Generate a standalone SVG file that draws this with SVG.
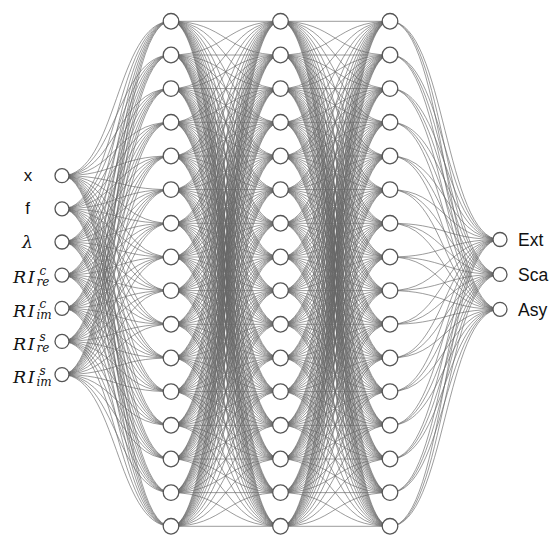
<svg xmlns="http://www.w3.org/2000/svg" width="554" height="544" viewBox="0 0 554 544">
<style>
.n circle{fill:#fff;stroke:#555;stroke-width:1.3}
#edges{fill:none;stroke:#666;stroke-width:.65}
.s{font-family:"Liberation Sans",Arial,sans-serif;font-size:17px;fill:#111}
.o{font-family:"Liberation Sans",Arial,sans-serif;font-size:17.5px;fill:#111}
.m{font-family:"DejaVu Serif","Liberation Serif",serif;font-style:italic;fill:#111}
</style>
<defs>
<g id="u1"><path d="M0,0C54.75,0 54.75,33.67 109.5,33.67"/></g>
<g id="u2"><use href="#u1"/><path d="M0,0C54.75,0 54.75,67.33 109.5,67.33"/></g>
<g id="u3"><use href="#u2"/><path d="M0,0C54.75,0 54.75,101 109.5,101"/></g>
<g id="u4"><use href="#u3"/><path d="M0,0C54.75,0 54.75,134.67 109.5,134.67"/></g>
<g id="u5"><use href="#u4"/><path d="M0,0C54.75,0 54.75,168.33 109.5,168.33"/></g>
<g id="u6"><use href="#u5"/><path d="M0,0C54.75,0 54.75,202 109.5,202"/></g>
<g id="u7"><use href="#u6"/><path d="M0,0C54.75,0 54.75,235.67 109.5,235.67"/></g>
<g id="u8"><use href="#u7"/><path d="M0,0C54.75,0 54.75,269.33 109.5,269.33"/></g>
<g id="u9"><use href="#u8"/><path d="M0,0C54.75,0 54.75,303 109.5,303"/></g>
<g id="u10"><use href="#u9"/><path d="M0,0C54.75,0 54.75,336.67 109.5,336.67"/></g>
<g id="u11"><use href="#u10"/><path d="M0,0C54.75,0 54.75,370.33 109.5,370.33"/></g>
<g id="u12"><use href="#u11"/><path d="M0,0C54.75,0 54.75,404 109.5,404"/></g>
<g id="u13"><use href="#u12"/><path d="M0,0C54.75,0 54.75,437.67 109.5,437.67"/></g>
<g id="u14"><use href="#u13"/><path d="M0,0C54.75,0 54.75,471.33 109.5,471.33"/></g>
<g id="u15"><use href="#u14"/><path d="M0,0C54.75,0 54.75,505 109.5,505"/></g>
<g id="hh">
<use href="#u15" transform="translate(0,21.3)"/>
<use href="#u14" transform="translate(0,54.97)"/><use href="#u1" transform="matrix(1,0,0,-1,0,54.97)"/>
<use href="#u13" transform="translate(0,88.63)"/><use href="#u2" transform="matrix(1,0,0,-1,0,88.63)"/>
<use href="#u12" transform="translate(0,122.3)"/><use href="#u3" transform="matrix(1,0,0,-1,0,122.3)"/>
<use href="#u11" transform="translate(0,155.97)"/><use href="#u4" transform="matrix(1,0,0,-1,0,155.97)"/>
<use href="#u10" transform="translate(0,189.63)"/><use href="#u5" transform="matrix(1,0,0,-1,0,189.63)"/>
<use href="#u9" transform="translate(0,223.3)"/><use href="#u6" transform="matrix(1,0,0,-1,0,223.3)"/>
<use href="#u8" transform="translate(0,256.97)"/><use href="#u7" transform="matrix(1,0,0,-1,0,256.97)"/>
<use href="#u7" transform="translate(0,290.63)"/><use href="#u8" transform="matrix(1,0,0,-1,0,290.63)"/>
<use href="#u6" transform="translate(0,324.3)"/><use href="#u9" transform="matrix(1,0,0,-1,0,324.3)"/>
<use href="#u5" transform="translate(0,357.97)"/><use href="#u10" transform="matrix(1,0,0,-1,0,357.97)"/>
<use href="#u4" transform="translate(0,391.63)"/><use href="#u11" transform="matrix(1,0,0,-1,0,391.63)"/>
<use href="#u3" transform="translate(0,425.3)"/><use href="#u12" transform="matrix(1,0,0,-1,0,425.3)"/>
<use href="#u2" transform="translate(0,458.97)"/><use href="#u13" transform="matrix(1,0,0,-1,0,458.97)"/>
<use href="#u1" transform="translate(0,492.63)"/><use href="#u14" transform="matrix(1,0,0,-1,0,492.63)"/>
<use href="#u15" transform="matrix(1,0,0,-1,0,526.3)"/>
</g>
</defs>
<g id="edges">
<path d="M62,175.7C116.5,175.7 116.5,21.3 171,21.3M62,175.7C116.5,175.7 116.5,55 171,55M62,175.7C116.5,175.7 116.5,88.6 171,88.6M62,175.7C116.5,175.7 116.5,122.3 171,122.3M62,175.7C116.5,175.7 116.5,156 171,156M62,175.7C116.5,175.7 116.5,189.6 171,189.6M62,175.7C116.5,175.7 116.5,223.3 171,223.3M62,175.7C116.5,175.7 116.5,257 171,257M62,175.7C116.5,175.7 116.5,290.6 171,290.6M62,175.7C116.5,175.7 116.5,324.3 171,324.3M62,175.7C116.5,175.7 116.5,358 171,358M62,175.7C116.5,175.7 116.5,391.6 171,391.6M62,175.7C116.5,175.7 116.5,425.3 171,425.3M62,175.7C116.5,175.7 116.5,459 171,459M62,175.7C116.5,175.7 116.5,492.6 171,492.6M62,175.7C116.5,175.7 116.5,526.3 171,526.3"/>
<path d="M62,208.8C116.5,208.8 116.5,21.3 171,21.3M62,208.8C116.5,208.8 116.5,55 171,55M62,208.8C116.5,208.8 116.5,88.6 171,88.6M62,208.8C116.5,208.8 116.5,122.3 171,122.3M62,208.8C116.5,208.8 116.5,156 171,156M62,208.8C116.5,208.8 116.5,189.6 171,189.6M62,208.8C116.5,208.8 116.5,223.3 171,223.3M62,208.8C116.5,208.8 116.5,257 171,257M62,208.8C116.5,208.8 116.5,290.6 171,290.6M62,208.8C116.5,208.8 116.5,324.3 171,324.3M62,208.8C116.5,208.8 116.5,358 171,358M62,208.8C116.5,208.8 116.5,391.6 171,391.6M62,208.8C116.5,208.8 116.5,425.3 171,425.3M62,208.8C116.5,208.8 116.5,459 171,459M62,208.8C116.5,208.8 116.5,492.6 171,492.6M62,208.8C116.5,208.8 116.5,526.3 171,526.3"/>
<path d="M62,242C116.5,242 116.5,21.3 171,21.3M62,242C116.5,242 116.5,55 171,55M62,242C116.5,242 116.5,88.6 171,88.6M62,242C116.5,242 116.5,122.3 171,122.3M62,242C116.5,242 116.5,156 171,156M62,242C116.5,242 116.5,189.6 171,189.6M62,242C116.5,242 116.5,223.3 171,223.3M62,242C116.5,242 116.5,257 171,257M62,242C116.5,242 116.5,290.6 171,290.6M62,242C116.5,242 116.5,324.3 171,324.3M62,242C116.5,242 116.5,358 171,358M62,242C116.5,242 116.5,391.6 171,391.6M62,242C116.5,242 116.5,425.3 171,425.3M62,242C116.5,242 116.5,459 171,459M62,242C116.5,242 116.5,492.6 171,492.6M62,242C116.5,242 116.5,526.3 171,526.3"/>
<path d="M62,275.1C116.5,275.1 116.5,21.3 171,21.3M62,275.1C116.5,275.1 116.5,55 171,55M62,275.1C116.5,275.1 116.5,88.6 171,88.6M62,275.1C116.5,275.1 116.5,122.3 171,122.3M62,275.1C116.5,275.1 116.5,156 171,156M62,275.1C116.5,275.1 116.5,189.6 171,189.6M62,275.1C116.5,275.1 116.5,223.3 171,223.3M62,275.1C116.5,275.1 116.5,257 171,257M62,275.1C116.5,275.1 116.5,290.6 171,290.6M62,275.1C116.5,275.1 116.5,324.3 171,324.3M62,275.1C116.5,275.1 116.5,358 171,358M62,275.1C116.5,275.1 116.5,391.6 171,391.6M62,275.1C116.5,275.1 116.5,425.3 171,425.3M62,275.1C116.5,275.1 116.5,459 171,459M62,275.1C116.5,275.1 116.5,492.6 171,492.6M62,275.1C116.5,275.1 116.5,526.3 171,526.3"/>
<path d="M62,308.3C116.5,308.3 116.5,21.3 171,21.3M62,308.3C116.5,308.3 116.5,55 171,55M62,308.3C116.5,308.3 116.5,88.6 171,88.6M62,308.3C116.5,308.3 116.5,122.3 171,122.3M62,308.3C116.5,308.3 116.5,156 171,156M62,308.3C116.5,308.3 116.5,189.6 171,189.6M62,308.3C116.5,308.3 116.5,223.3 171,223.3M62,308.3C116.5,308.3 116.5,257 171,257M62,308.3C116.5,308.3 116.5,290.6 171,290.6M62,308.3C116.5,308.3 116.5,324.3 171,324.3M62,308.3C116.5,308.3 116.5,358 171,358M62,308.3C116.5,308.3 116.5,391.6 171,391.6M62,308.3C116.5,308.3 116.5,425.3 171,425.3M62,308.3C116.5,308.3 116.5,459 171,459M62,308.3C116.5,308.3 116.5,492.6 171,492.6M62,308.3C116.5,308.3 116.5,526.3 171,526.3"/>
<path d="M62,341.4C116.5,341.4 116.5,21.3 171,21.3M62,341.4C116.5,341.4 116.5,55 171,55M62,341.4C116.5,341.4 116.5,88.6 171,88.6M62,341.4C116.5,341.4 116.5,122.3 171,122.3M62,341.4C116.5,341.4 116.5,156 171,156M62,341.4C116.5,341.4 116.5,189.6 171,189.6M62,341.4C116.5,341.4 116.5,223.3 171,223.3M62,341.4C116.5,341.4 116.5,257 171,257M62,341.4C116.5,341.4 116.5,290.6 171,290.6M62,341.4C116.5,341.4 116.5,324.3 171,324.3M62,341.4C116.5,341.4 116.5,358 171,358M62,341.4C116.5,341.4 116.5,391.6 171,391.6M62,341.4C116.5,341.4 116.5,425.3 171,425.3M62,341.4C116.5,341.4 116.5,459 171,459M62,341.4C116.5,341.4 116.5,492.6 171,492.6M62,341.4C116.5,341.4 116.5,526.3 171,526.3"/>
<path d="M62,374.6C116.5,374.6 116.5,21.3 171,21.3M62,374.6C116.5,374.6 116.5,55 171,55M62,374.6C116.5,374.6 116.5,88.6 171,88.6M62,374.6C116.5,374.6 116.5,122.3 171,122.3M62,374.6C116.5,374.6 116.5,156 171,156M62,374.6C116.5,374.6 116.5,189.6 171,189.6M62,374.6C116.5,374.6 116.5,223.3 171,223.3M62,374.6C116.5,374.6 116.5,257 171,257M62,374.6C116.5,374.6 116.5,290.6 171,290.6M62,374.6C116.5,374.6 116.5,324.3 171,324.3M62,374.6C116.5,374.6 116.5,358 171,358M62,374.6C116.5,374.6 116.5,391.6 171,391.6M62,374.6C116.5,374.6 116.5,425.3 171,425.3M62,374.6C116.5,374.6 116.5,459 171,459M62,374.6C116.5,374.6 116.5,492.6 171,492.6M62,374.6C116.5,374.6 116.5,526.3 171,526.3"/>
<path d="M171,21.3H390M171,55H390M171,88.6H390M171,122.3H390M171,156H390M171,189.6H390M171,223.3H390M171,257H390M171,290.6H390M171,324.3H390M171,358H390M171,391.6H390M171,425.3H390M171,459H390M171,492.6H390M171,526.3H390"/>
<use href="#hh" x="171"/>
<use href="#hh" x="280.5"/>
<path d="M500,239.5C445,239.5 445,21.3 390,21.3M500,239.5C445,239.5 445,55 390,55M500,239.5C445,239.5 445,88.6 390,88.6M500,239.5C445,239.5 445,122.3 390,122.3M500,239.5C445,239.5 445,156 390,156M500,239.5C445,239.5 445,189.6 390,189.6M500,239.5C445,239.5 445,223.3 390,223.3M500,239.5C445,239.5 445,257 390,257M500,239.5C445,239.5 445,290.6 390,290.6M500,239.5C445,239.5 445,324.3 390,324.3M500,239.5C445,239.5 445,358 390,358M500,239.5C445,239.5 445,391.6 390,391.6M500,239.5C445,239.5 445,425.3 390,425.3M500,239.5C445,239.5 445,459 390,459M500,239.5C445,239.5 445,492.6 390,492.6M500,239.5C445,239.5 445,526.3 390,526.3"/>
<path d="M500,274.4C445,274.4 445,21.3 390,21.3M500,274.4C445,274.4 445,55 390,55M500,274.4C445,274.4 445,88.6 390,88.6M500,274.4C445,274.4 445,122.3 390,122.3M500,274.4C445,274.4 445,156 390,156M500,274.4C445,274.4 445,189.6 390,189.6M500,274.4C445,274.4 445,223.3 390,223.3M500,274.4C445,274.4 445,257 390,257M500,274.4C445,274.4 445,290.6 390,290.6M500,274.4C445,274.4 445,324.3 390,324.3M500,274.4C445,274.4 445,358 390,358M500,274.4C445,274.4 445,391.6 390,391.6M500,274.4C445,274.4 445,425.3 390,425.3M500,274.4C445,274.4 445,459 390,459M500,274.4C445,274.4 445,492.6 390,492.6M500,274.4C445,274.4 445,526.3 390,526.3"/>
<path d="M500,309.3C445,309.3 445,21.3 390,21.3M500,309.3C445,309.3 445,55 390,55M500,309.3C445,309.3 445,88.6 390,88.6M500,309.3C445,309.3 445,122.3 390,122.3M500,309.3C445,309.3 445,156 390,156M500,309.3C445,309.3 445,189.6 390,189.6M500,309.3C445,309.3 445,223.3 390,223.3M500,309.3C445,309.3 445,257 390,257M500,309.3C445,309.3 445,290.6 390,290.6M500,309.3C445,309.3 445,324.3 390,324.3M500,309.3C445,309.3 445,358 390,358M500,309.3C445,309.3 445,391.6 390,391.6M500,309.3C445,309.3 445,425.3 390,425.3M500,309.3C445,309.3 445,459 390,459M500,309.3C445,309.3 445,492.6 390,492.6M500,309.3C445,309.3 445,526.3 390,526.3"/>
</g>
<g id="in1" class="n"><circle cx="62" cy="175.7" r="7"/><text class="s" x="28" y="180.5" text-anchor="middle">x</text></g>
<g id="in2" class="n"><circle cx="62" cy="208.8" r="7"/><text class="s" x="27.5" y="213.5" text-anchor="middle">f</text></g>
<g id="in3" class="n"><circle cx="62" cy="242" r="7"/><text class="m" x="27.5" y="247.5" font-size="17.5" text-anchor="middle">λ</text></g>
<g id="in4" class="n"><circle cx="62" cy="275.1" r="7"/><text class="m" x="13" y="283.3" font-size="17.5"><tspan letter-spacing="1.5">RI</tspan><tspan x="39.5" y="275.1" font-size="12">c</tspan><tspan x="36.5" y="286" font-size="12">re</tspan></text></g>
<g id="in5" class="n"><circle cx="62" cy="308.3" r="7"/><text class="m" x="13" y="316.5" font-size="17.5"><tspan letter-spacing="1.5">RI</tspan><tspan x="39.5" y="308.3" font-size="12">c</tspan><tspan x="36.5" y="319.2" font-size="12">im</tspan></text></g>
<g id="in6" class="n"><circle cx="62" cy="341.4" r="7"/><text class="m" x="13" y="349.6" font-size="17.5"><tspan letter-spacing="1.5">RI</tspan><tspan x="39.5" y="341.4" font-size="12">s</tspan><tspan x="36.5" y="352.3" font-size="12">re</tspan></text></g>
<g id="in7" class="n"><circle cx="62" cy="374.6" r="7"/><text class="m" x="13" y="382.8" font-size="17.5"><tspan letter-spacing="1.5">RI</tspan><tspan x="39.5" y="374.6" font-size="12">s</tspan><tspan x="36.5" y="385.5" font-size="12">im</tspan></text></g>
<g id="h1_1" class="n"><circle cx="171" cy="21.3" r="7.8"/></g>
<g id="h1_2" class="n"><circle cx="171" cy="55" r="7.8"/></g>
<g id="h1_3" class="n"><circle cx="171" cy="88.6" r="7.8"/></g>
<g id="h1_4" class="n"><circle cx="171" cy="122.3" r="7.8"/></g>
<g id="h1_5" class="n"><circle cx="171" cy="156" r="7.8"/></g>
<g id="h1_6" class="n"><circle cx="171" cy="189.6" r="7.8"/></g>
<g id="h1_7" class="n"><circle cx="171" cy="223.3" r="7.8"/></g>
<g id="h1_8" class="n"><circle cx="171" cy="257" r="7.8"/></g>
<g id="h1_9" class="n"><circle cx="171" cy="290.6" r="7.8"/></g>
<g id="h1_10" class="n"><circle cx="171" cy="324.3" r="7.8"/></g>
<g id="h1_11" class="n"><circle cx="171" cy="358" r="7.8"/></g>
<g id="h1_12" class="n"><circle cx="171" cy="391.6" r="7.8"/></g>
<g id="h1_13" class="n"><circle cx="171" cy="425.3" r="7.8"/></g>
<g id="h1_14" class="n"><circle cx="171" cy="459" r="7.8"/></g>
<g id="h1_15" class="n"><circle cx="171" cy="492.6" r="7.8"/></g>
<g id="h1_16" class="n"><circle cx="171" cy="526.3" r="7.8"/></g>
<g id="h2_1" class="n"><circle cx="280.5" cy="21.3" r="7.8"/></g>
<g id="h2_2" class="n"><circle cx="280.5" cy="55" r="7.8"/></g>
<g id="h2_3" class="n"><circle cx="280.5" cy="88.6" r="7.8"/></g>
<g id="h2_4" class="n"><circle cx="280.5" cy="122.3" r="7.8"/></g>
<g id="h2_5" class="n"><circle cx="280.5" cy="156" r="7.8"/></g>
<g id="h2_6" class="n"><circle cx="280.5" cy="189.6" r="7.8"/></g>
<g id="h2_7" class="n"><circle cx="280.5" cy="223.3" r="7.8"/></g>
<g id="h2_8" class="n"><circle cx="280.5" cy="257" r="7.8"/></g>
<g id="h2_9" class="n"><circle cx="280.5" cy="290.6" r="7.8"/></g>
<g id="h2_10" class="n"><circle cx="280.5" cy="324.3" r="7.8"/></g>
<g id="h2_11" class="n"><circle cx="280.5" cy="358" r="7.8"/></g>
<g id="h2_12" class="n"><circle cx="280.5" cy="391.6" r="7.8"/></g>
<g id="h2_13" class="n"><circle cx="280.5" cy="425.3" r="7.8"/></g>
<g id="h2_14" class="n"><circle cx="280.5" cy="459" r="7.8"/></g>
<g id="h2_15" class="n"><circle cx="280.5" cy="492.6" r="7.8"/></g>
<g id="h2_16" class="n"><circle cx="280.5" cy="526.3" r="7.8"/></g>
<g id="h3_1" class="n"><circle cx="390" cy="21.3" r="7.8"/></g>
<g id="h3_2" class="n"><circle cx="390" cy="55" r="7.8"/></g>
<g id="h3_3" class="n"><circle cx="390" cy="88.6" r="7.8"/></g>
<g id="h3_4" class="n"><circle cx="390" cy="122.3" r="7.8"/></g>
<g id="h3_5" class="n"><circle cx="390" cy="156" r="7.8"/></g>
<g id="h3_6" class="n"><circle cx="390" cy="189.6" r="7.8"/></g>
<g id="h3_7" class="n"><circle cx="390" cy="223.3" r="7.8"/></g>
<g id="h3_8" class="n"><circle cx="390" cy="257" r="7.8"/></g>
<g id="h3_9" class="n"><circle cx="390" cy="290.6" r="7.8"/></g>
<g id="h3_10" class="n"><circle cx="390" cy="324.3" r="7.8"/></g>
<g id="h3_11" class="n"><circle cx="390" cy="358" r="7.8"/></g>
<g id="h3_12" class="n"><circle cx="390" cy="391.6" r="7.8"/></g>
<g id="h3_13" class="n"><circle cx="390" cy="425.3" r="7.8"/></g>
<g id="h3_14" class="n"><circle cx="390" cy="459" r="7.8"/></g>
<g id="h3_15" class="n"><circle cx="390" cy="492.6" r="7.8"/></g>
<g id="h3_16" class="n"><circle cx="390" cy="526.3" r="7.8"/></g>
<g id="out1" class="n"><circle cx="500" cy="239.5" r="7"/><text class="o" x="518" y="245.7">Ext</text></g>
<g id="out2" class="n"><circle cx="500" cy="274.4" r="7"/><text class="o" x="518" y="280.6">Sca</text></g>
<g id="out3" class="n"><circle cx="500" cy="309.3" r="7"/><text class="o" x="518" y="315.5">Asy</text></g>
</svg>
